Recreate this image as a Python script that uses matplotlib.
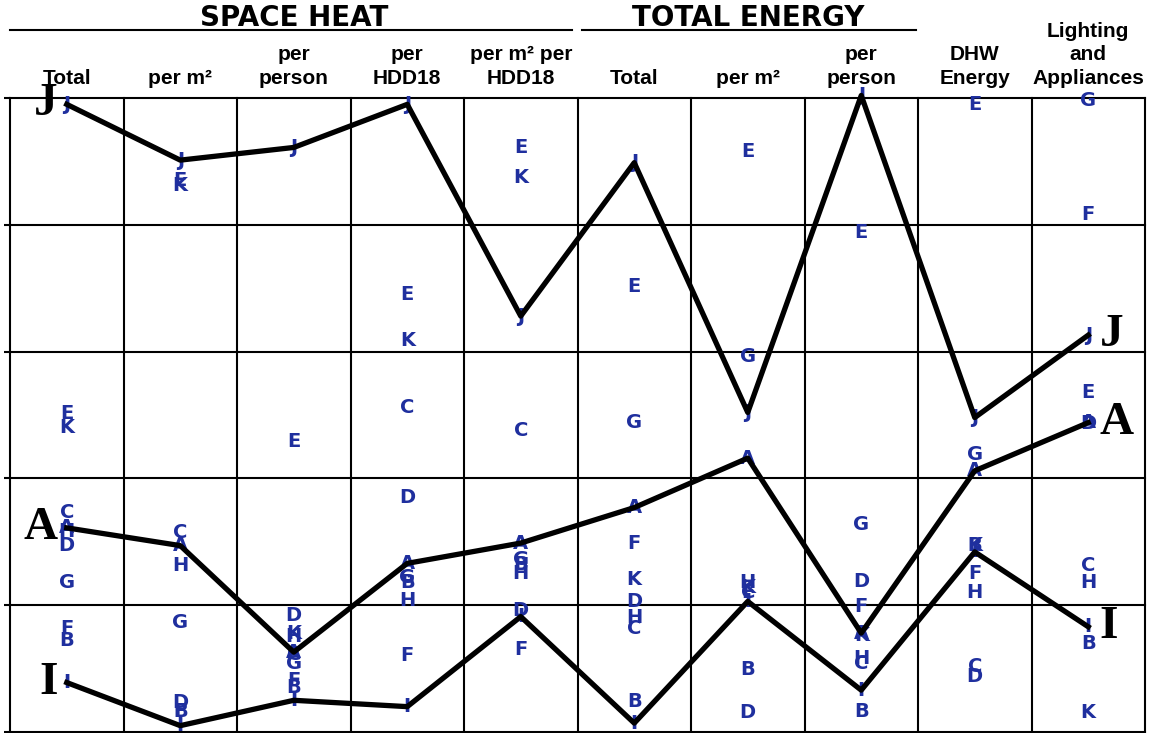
import matplotlib.pyplot as plt

# column headers (10 columns)
headers = ['Total', 'per m²', 'per\nperson', 'per\nHDD18', 'per m² per\nHDD18',
           'Total', 'per m²', 'per\nperson', 'DHW\nEnergy', 'Lighting\nand\nAppliances']
groups = ['SPACE HEAT', 'TOTAL ENERGY']

# letter positions per column, grid units 0 (bottom) .. 5 (top)
A = [1.61, 1.47, 0.63, 1.33, 1.49, 1.77, 2.16, 0.78, 2.06, 2.44]
B = [0.72, 0.16, 0.35, 1.18, 1.32, 0.24, 0.49, 0.16, 1.47, 0.70]
C = [1.73, 1.57, 0.61, 2.56, 2.38, 0.82, 1.10, 0.54, 0.52, 1.31]
D = [1.47, 0.23, 0.92, 1.85, 0.96, 1.03, 0.15, 1.19, 0.44, 2.43]
E = [2.51, 4.35, 2.29, 3.45, 4.61, 3.51, 4.58, 3.94, 4.95, 2.68]
F = [0.82, 0.16, 0.41, 0.60, 0.65, 1.49, 1.10, 0.99, 1.25, 4.08]
G = [1.18, 0.86, 0.54, 1.22, 1.36, 2.44, 2.96, 1.64, 2.19, 4.98]
H = [1.58, 1.31, 0.75, 1.04, 1.25, 0.90, 1.18, 0.58, 1.10, 1.18]
I = [0.39, 0.05, 0.25, 0.20, 0.91, 0.07, 1.03, 0.33, 1.42, 0.83]
J = [4.95, 4.51, 4.61, 4.95, 3.28, 4.49, 2.52, 5.02, 2.48, 3.13]
K = [2.40, 4.31, 0.78, 3.09, 4.37, 1.20, 1.14, 0.76, 1.47, 0.15]

letters = {'A': A, 'B': B, 'C': C, 'D': D, 'E': E, 'F': F,
           'G': G, 'H': H, 'I': I, 'J': J, 'K': K}
highlight = {'J': J, 'A': A, 'I': I}

blue = '#1f2f9e'

fig = plt.figure(figsize=(11.54, 7.33), dpi=100)
ax = fig.add_axes([10 / 1154, 1 / 733, 1135 / 1154, 634 / 733])
ax.set_xlim(0, 10)
ax.set_ylim(0, 5)
for s in ax.spines.values():
    s.set_visible(False)
ax.set_xticks([])
ax.set_yticks(range(6))
ax.tick_params(axis='y', direction='out', length=4, width=1.5, labelleft=False)

for i in range(11):
    ax.plot([i, i], [0, 5], color='black', lw=1.5, clip_on=False, zorder=2)
for j in range(6):
    ax.plot([0, 10], [j, j], color='black', lw=1.5, clip_on=False, zorder=2)

xs = [i + 0.5 for i in range(10)]

for name, vals in letters.items():
    for x, v in zip(xs, vals):
        ax.text(x, v, name, ha='center', va='center', color=blue,
                fontsize=14, fontweight='bold', zorder=3, clip_on=False)

for name, vals in highlight.items():
    ax.plot(xs, vals, color='black', lw=3.8, zorder=5, clip_on=False)
    ax.text(0.42, vals[0], name, ha='right', va='center', fontsize=34,
            fontweight='bold', family='Liberation Serif', zorder=6)
    ax.text(9.6, vals[-1], name, ha='left', va='center', fontsize=34,
            fontweight='bold', family='Liberation Serif', zorder=6)

for x, h in zip(xs, headers):
    ax.text(x, 5.08, h, ha='center', va='bottom', fontsize=15,
            fontweight='bold', family='Liberation Sans', linespacing=1.3,
            clip_on=False)

ax.text(2.5, 5.63, groups[0], ha='center', va='center', fontsize=20,
        fontweight='heavy', clip_on=False)
ax.text(6.5, 5.63, groups[1], ha='center', va='center', fontsize=20,
        fontweight='heavy', clip_on=False)
ax.plot([0, 4.95], [5.54, 5.54], color='black', lw=1.5, clip_on=False)
ax.plot([5.04, 7.98], [5.54, 5.54], color='black', lw=1.5, clip_on=False)

fig.savefig('out.png', dpi=100)
